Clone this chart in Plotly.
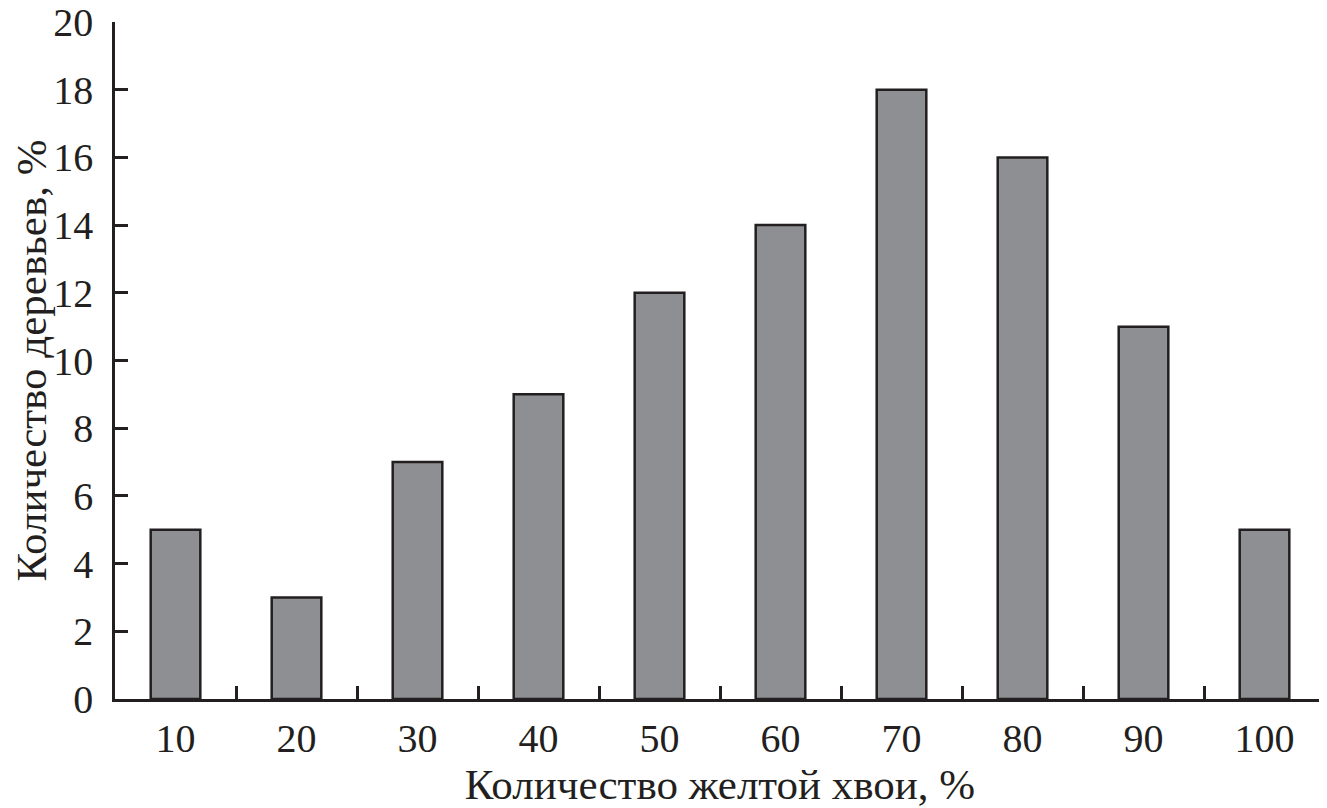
import plotly.graph_objects as go

categories = ["10", "20", "30", "40", "50", "60", "70", "80", "90", "100"]
values = [5, 3, 7, 9, 12, 14, 18, 16, 11, 5]
y_ticks = [0, 2, 4, 6, 8, 10, 12, 14, 16, 18, 20]

x_title = "Количество желтой хвои, %"
y_title = "Количество деревьев, %"

font_family = "Liberation Serif, Times New Roman, serif"

fig = go.Figure(go.Bar(
    x=categories, y=values, width=0.41,
    marker=dict(color="#8e8f93", line=dict(color="#231f20", width=2.5)),
))

# the page body adds an 8px offset, so the figure is sized and margined to compensate
fig.update_layout(
    width=1319, height=800,
    margin=dict(l=107, r=2, t=14, b=109),
    plot_bgcolor="white", paper_bgcolor="white",
    font=dict(family=font_family, size=40, color="#231f20"),
    showlegend=False,
)
fig.update_xaxes(
    type="category", range=[-0.5, 9.5], automargin=False,
    showline=True, linecolor="#231f20", linewidth=2.5,
    ticks="inside", ticklen=13, tickwidth=2.5, tickcolor="#231f20",
    tickson="boundaries", showgrid=False,
    ticklabelstandoff=2, ticklabeloverflow="allow",
    title=dict(text=x_title, standoff=0, font=dict(size=43)),
)
fig.update_yaxes(
    range=[0, 20], tickvals=y_ticks, automargin=False,
    showline=True, linecolor="#231f20", linewidth=2.5,
    ticks="inside", ticklen=13, tickwidth=2.5, tickcolor="#231f20",
    showgrid=False, zeroline=False,
    ticklabelstandoff=11, ticklabeloverflow="allow",
)
fig.add_annotation(
    text=y_title, xref="paper", yref="paper", x=0, y=0.5,
    xshift=-84, textangle=-90, xanchor="center", yanchor="middle",
    showarrow=False, font=dict(size=43),
)

fig.write_html("out.html")
